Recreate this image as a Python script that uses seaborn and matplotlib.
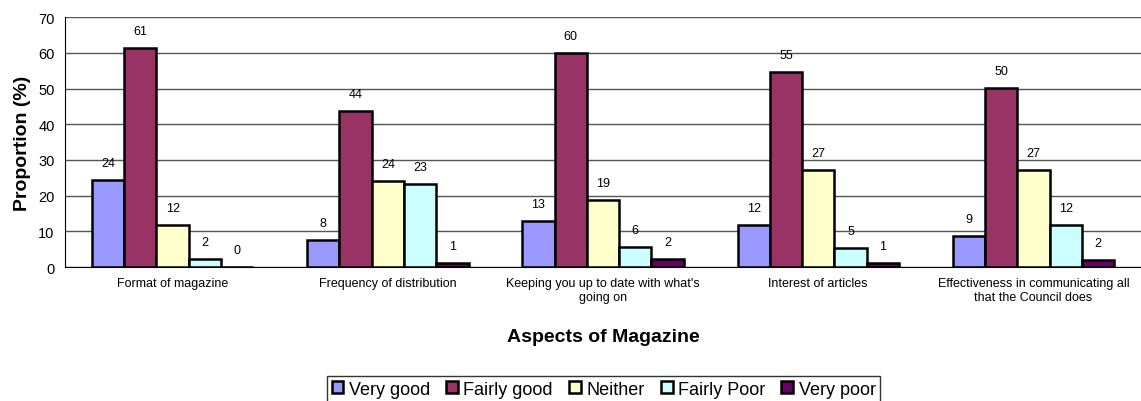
import numpy as np
import pandas as pd
import seaborn as sns
import matplotlib.pyplot as plt

categories = ["Format of magazine", "Frequency of distribution",
              "Keeping you up to date with what's\ngoing on",
              "Interest of articles",
              "Effectiveness in communicating all\nthat the Council does"]
ratings = ["Very good", "Fairly good", "Neither", "Fairly Poor", "Very poor"]

very_good = [24.4, 7.6, 12.9, 11.8, 8.8]
fairly_good = [61.3, 43.6, 60.0, 54.6, 50.1]
neither = [11.7, 24.0, 18.8, 27.1, 27.3]
fairly_poor = [2.3, 23.2, 5.7, 5.4, 11.8]
very_poor = [0.0, 1.2, 2.3, 1.2, 2.1]

colors = ["#9999FF", "#993366", "#FFFFCC", "#CCFFFF", "#660066"]

series = [very_good, fairly_good, neither, fairly_poor, very_poor]
rows = []
for r, vals in zip(ratings, series):
    for c, v in zip(categories, vals):
        rows.append({"Aspect": c, "Rating": r, "Value": v})
df = pd.DataFrame(rows)

sns.set_style("white")
plt.rcParams["font.family"] = ["Liberation Sans", "DejaVu Sans"]
plt.rcParams["text.color"] = "black"
plt.rcParams["axes.labelcolor"] = "black"
plt.rcParams["xtick.color"] = "black"
plt.rcParams["ytick.color"] = "black"

fig = plt.figure(figsize=(11.41, 4.02), dpi=100)
ax = fig.add_axes([0.057, 0.333, 0.943, 0.622])

sns.barplot(data=df, x="Aspect", y="Value", hue="Rating", order=categories,
            hue_order=ratings, palette=colors, saturation=1, width=0.75, gap=0,
            edgecolor="black", linewidth=1.8, ax=ax, legend=True)

for cont in ax.containers:
    ax.bar_label(cont, labels=[f"{round(b.get_height()):.0f}" for b in cont],
                 padding=8, fontsize=9, color="black")

ax.set_xlim(-0.5, 4.5)
ax.set_ylim(0, 70)
ax.set_yticks(range(0, 71, 10))
ax.yaxis.grid(True, color="#555555", linewidth=1)
ax.set_axisbelow(True)
for s in ["top", "right"]:
    ax.spines[s].set_visible(False)
ax.spines["left"].set_color("black")
ax.spines["bottom"].set_color("black")

# category labels at centres, tick marks at boundaries
ax.set_xticks(np.arange(5))
ax.set_xticklabels(categories, fontsize=9)
ax.tick_params(axis="x", length=0, pad=7)
ax.set_xticks(np.arange(-0.5, 4.6, 1), minor=True)
ax.tick_params(axis="x", which="minor", length=5, width=1, color="black", direction="out")
ax.tick_params(axis="y", length=4, width=1, color="black", direction="out", labelsize=10.5)

ax.set_xlabel("Aspects of Magazine", fontsize=14, fontweight="bold", labelpad=18)
ax.set_ylabel("Proportion (%)", fontsize=14, fontweight="bold", labelpad=5)

handles, labels = ax.get_legend_handles_labels()
ax.get_legend().remove()
leg = fig.legend(handles, labels, loc="lower center", bbox_to_anchor=(0.529, -0.025),
                 ncol=5, fontsize=13, frameon=True, fancybox=False,
                 edgecolor="black", handlelength=0.65, handleheight=0.65,
                 handletextpad=0.3, columnspacing=0.9, borderpad=0.25)
leg.get_frame().set_linewidth(1)

fig.savefig("out.png", dpi=100)
